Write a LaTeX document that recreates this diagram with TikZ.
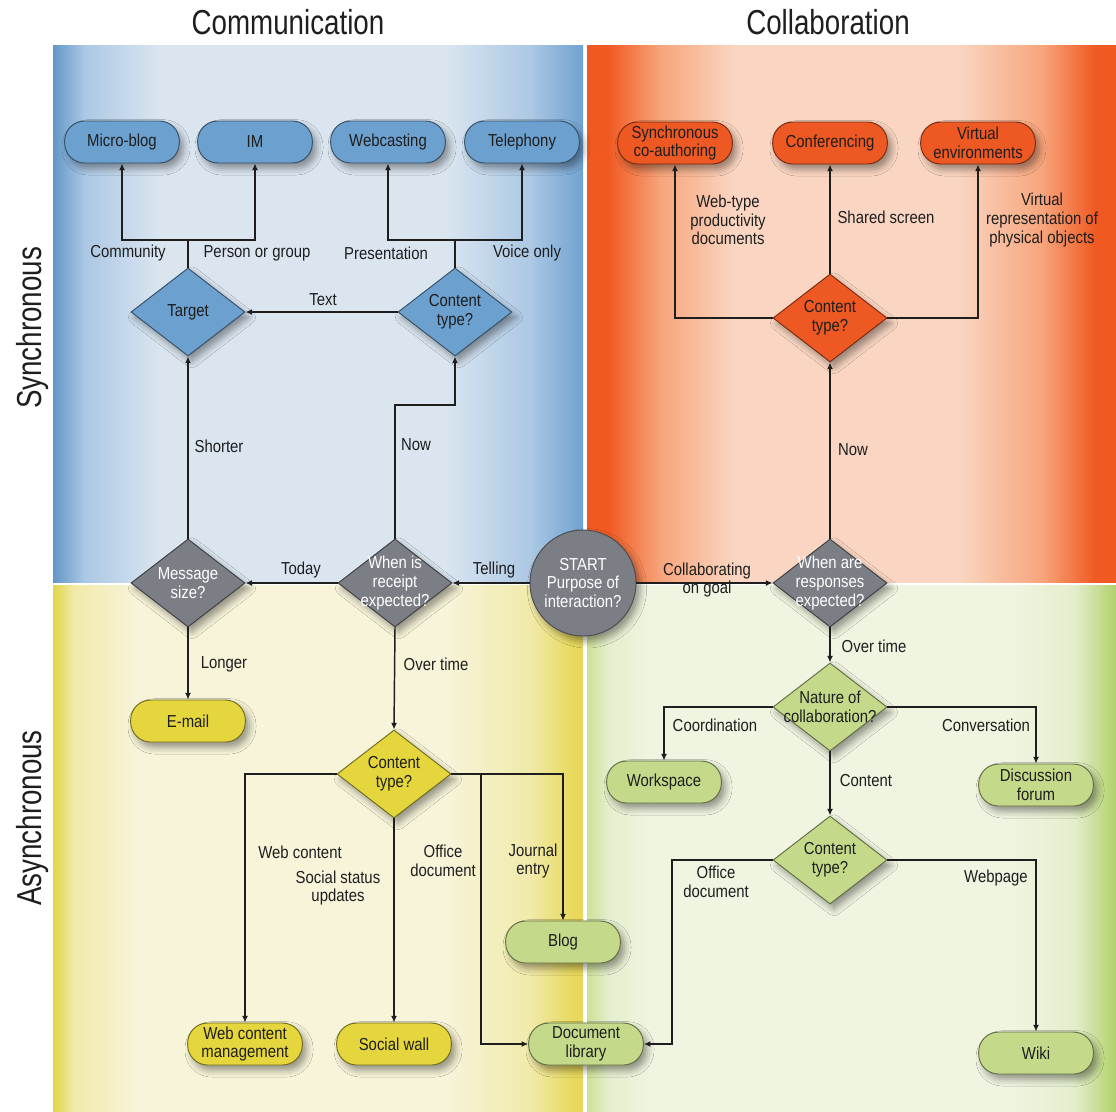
\documentclass[tikz,border=0pt]{standalone}
\usepackage{fontspec}
\setmainfont{Liberation Sans}[FakeStretch=0.86]
\newfontfamily\titlefont{Liberation Sans}[FakeStretch=0.8]
\usetikzlibrary{shapes.geometric,arrows.meta,shadows.blur}

% panel colours
\definecolor{blueA}{RGB}{98,151,201}
\definecolor{blueB}{RGB}{172,200,228}
\definecolor{blueC}{RGB}{218,229,240}
\definecolor{blueD}{RGB}{112,162,209}
\definecolor{orA}{RGB}{240,90,34}
\definecolor{orB}{RGB}{247,165,124}
\definecolor{orC}{RGB}{250,214,194}
\definecolor{yeA}{RGB}{226,213,72}
\definecolor{yeB}{RGB}{241,234,170}
\definecolor{yeC}{RGB}{247,244,218}
\definecolor{yeD}{RGB}{232,217,92}
\definecolor{grA}{RGB}{205,225,150}
\definecolor{grB}{RGB}{228,238,205}
\definecolor{grC}{RGB}{239,245,225}
\definecolor{grD}{RGB}{178,209,106}
% node colours
\definecolor{nblue}{RGB}{108,160,207}
\definecolor{norange}{RGB}{238,88,34}
\definecolor{nyellow}{RGB}{228,214,60}
\definecolor{ngreen}{RGB}{196,218,138}
\definecolor{ngrey}{RGB}{124,126,134}
\definecolor{linec}{RGB}{30,30,30}
\definecolor{txt}{RGB}{30,30,30}

\pgfdeclarehorizontalshading{bluepanel}{100bp}{color(0bp)=(blueA); color(25bp)=(blueA); color(28bp)=(blueB); color(35bp)=(blueC); color(62bp)=(blueC); color(70bp)=(blueB); color(75bp)=(blueD); color(100bp)=(blueD)}
\pgfdeclarehorizontalshading{orangepanel}{100bp}{color(0bp)=(orA); color(25bp)=(orA); color(27bp)=(orA); color(32bp)=(orB); color(39bp)=(orC); color(60bp)=(orC); color(68bp)=(orB); color(73bp)=(orA); color(75bp)=(orA); color(100bp)=(orA)}
\pgfdeclarehorizontalshading{yellowpanel}{100bp}{color(0bp)=(yeA); color(25bp)=(yeA); color(27bp)=(yeB); color(33bp)=(yeC); color(62bp)=(yeC); color(70bp)=(yeB); color(74bp)=(yeD); color(100bp)=(yeD)}
\pgfdeclarehorizontalshading{greenpanel}{100bp}{color(0bp)=(grA); color(25bp)=(grA); color(27bp)=(grB); color(31bp)=(grC); color(65bp)=(grC); color(71bp)=(grB); color(75bp)=(grD); color(100bp)=(grD)}

\newcommand\labfont{\fontsize{13}{14}\selectfont}
\newcommand\bigtitle{\titlefont\fontsize{26}{28}\selectfont}

\tikzset{
  softshadow/.style={blur shadow={shadow xshift=3pt, shadow yshift=-4pt, shadow blur radius=5pt, shadow opacity=40}},
  pill/.style={rectangle, rounded corners=15pt, minimum width=86pt, minimum height=31.5pt,
    inner sep=1pt, align=center, font=\labfont, text=txt, fill=#1, draw=#1!50!black,
    line width=0.7pt, softshadow},
  dia/.style={diamond, minimum width=85.5pt, minimum height=66pt, inner sep=0pt,
    fill=#1, draw=#1!50!black, line width=0.7pt, softshadow},
  dtext/.style={align=center, font=\labfont, text=txt, inner sep=0pt},
  wtext/.style={dtext, text=white},
  lbl/.style={align=center, font=\labfont, text=txt, inner sep=0pt},
  link/.style={draw=linec, line width=1.1pt},
  arr/.style={link, -{Latex[length=5pt,width=4.5pt]}},
}

\begin{document}
\begin{tikzpicture}[x=0.75pt, y=-0.75pt]
\useasboundingbox (0,0) rectangle (1116,1111);

% quadrant backgrounds
\fill[shading=bluepanel]   (53,45)   rectangle (583,582);
\fill[shading=orangepanel] (587,45)  rectangle (1116,582);
\fill[shading=yellowpanel] (53,585)  rectangle (583,1111);
\fill[shading=greenpanel]  (587,585) rectangle (1116,1111);

% axis titles
\node[font=\bigtitle, text=txt] (tcomm) at (288,22) {Communication};
\node[font=\bigtitle, text=txt] (tcoll) at (828,22) {Collaboration};
\node[font=\bigtitle, text=txt, rotate=90] (tsync) at (33,328) {Synchronous};
\node[font=\bigtitle, text=txt, rotate=90] (tasync) at (33,818) {Asynchronous};

% synchronous communication
\node[pill=nblue] (microblog) at (122,142) {Micro-blog};
\node[pill=nblue] (im)        at (255,142) {IM};
\node[pill=nblue] (webcast)   at (388,142) {Webcasting};
\node[pill=nblue] (teleph)    at (522,142) {Telephony};
\node[dia=nblue, label={[dtext]center:Target}] (target) at (188,312) {};
\node[dia=nblue, label={[dtext]center:Content\\type?}] (ctb) at (455,312) {};

% decisions on the axis
\node[dia=ngrey, label={[wtext]center:Message\\size?}] (msize) at (188,583) {};
\node[dia=ngrey, label={[wtext]center:When is\\receipt\\expected?}] (whenis) at (395,583) {};
\node[circle, minimum size=79.5pt, inner sep=0pt, fill=ngrey, draw=ngrey!60!black,
      line width=0.7pt, softshadow, align=center, font=\labfont, text=white]
      (start) at (583,583) {START\\Purpose of\\interaction?};
\node[dia=ngrey, label={[wtext]center:When are\\responses\\expected?}] (whenare) at (830,583) {};

% asynchronous communication
\node[pill=nyellow] (email) at (188,721) {E-mail};
\node[dia=nyellow, label={[dtext]center:Content\\type?}] (cty) at (394,774) {};
\node[pill=nyellow] (wcm)    at (245,1044) {Web content\\management};
\node[pill=nyellow] (social) at (394,1044) {Social wall};
\node[pill=ngreen]  (blog)   at (563,942)  {Blog};
\node[pill=ngreen]  (doclib) at (586,1044) {Document\\library};

% synchronous collaboration
\node[pill=norange] (coauth) at (675,143) {Synchronous\\co-authoring};
\node[pill=norange] (conf)   at (830,143) {Conferencing};
\node[pill=norange] (virt)   at (978,143) {Virtual\\environments};
\node[dia=norange, label={[dtext]center:Content\\type?}] (oct) at (830,318) {};

% asynchronous collaboration
\node[dia=ngreen, label={[dtext]center:Nature of\\collaboration?}] (nature) at (830,707) {};
\node[pill=ngreen] (workspace) at (664,782)  {Workspace};
\node[pill=ngreen] (forum)     at (1036,785) {Discussion\\forum};
\node[dia=ngreen, label={[dtext]center:Content\\type?}] (gct) at (830,860) {};
\node[pill=ngreen] (wiki)      at (1036,1053) {Wiki};

% junction points
\coordinate (jtarget) at (188,240);
\coordinate (jctb)    at (455,240);
\coordinate (jnow)    at (395,405);
\coordinate (jdoc)    at (481,774);
\coordinate (jod)     at (672,1044);

% connectors: communication
\draw[link] (target.north) -- (jtarget);
\draw[arr] (jtarget) -| (microblog.south);
\draw[arr] (jtarget) -| (im.south);
\draw[link] (ctb.north) -- (jctb);
\draw[arr] (jctb) -| (webcast.south);
\draw[arr] (jctb) -| (teleph.south);
\draw[arr] (ctb.west) -- (target.east);
\draw[arr] (msize.north) -- (target.south);
\draw[arr] (whenis.north) -- (jnow) -| (ctb.south);
\draw[arr] (start.west) -- (whenis.east);
\draw[arr] (whenis.west) -- (msize.east);
\draw[arr] (msize.south) -- (email.north);
\draw[arr] (whenis.south) -- (cty.north);
\draw[arr] (cty.west) -| (wcm.north);
\draw[arr] (cty.south) -- (social.north);
\draw[arr] (cty.east) -| (blog.north);
\draw[arr] (jdoc) |- (doclib.west);

% connectors: collaboration
\draw[arr] (start.east) -- (whenare.west);
\draw[arr] (whenare.north) -- (oct.south);
\draw[arr] (oct.west) -| (coauth.south);
\draw[arr] (oct.north) -- (conf.south);
\draw[arr] (oct.east) -| (virt.south);
\draw[arr] (whenare.south) -- (nature.north);
\draw[arr] (nature.west) -| (workspace.north);
\draw[arr] (nature.east) -| (forum.north);
\draw[arr] (nature.south) -- (gct.north);
\draw[arr] (gct.west) -| (jod) -- (doclib.east);
\draw[arr] (gct.east) -| (wiki.north);

% branch labels
\node[lbl] (lcommunity) at (128,253) {Community};
\node[lbl] (lperson)    at (257,253) {Person or group};
\node[lbl] (lpresent)   at (386,253) {Presentation};
\node[lbl] (lvoice)     at (527,253) {Voice only};
\node[lbl] (ltext)      at (323,300) {Text};
\node[lbl] (lshorter)   at (219,446) {Shorter};
\node[lbl] (lnow)       at (416,445) {Now};
\node[lbl] (ltoday)     at (301,570) {Today};
\node[lbl] (ltelling)   at (494,570) {Telling};
\node[lbl] (llonger)    at (224,664) {Longer};
\node[lbl] (lovertime)  at (436,664) {Over time};
\node[lbl] (lwebcont)   at (300,852) {Web content};
\node[lbl] (lsocial)    at (338,888) {Social status\\updates};
\node[lbl] (loffice)    at (443,861) {Office\\document};
\node[lbl] (ljournal)   at (533,861) {Journal\\entry};
\node[lbl] (lwebtype)   at (728,220) {Web-type\\productivity\\documents};
\node[lbl] (lshared)    at (886,217) {Shared screen};
\node[lbl] (lvirtual)   at (1042,220) {Virtual\\representation of\\physical objects};
\node[lbl] (lnow2)      at (853,450) {Now};
\node[lbl] (lcollab)    at (707,580) {Collaborating\\on goal};
\node[lbl] (lovertime2) at (874,646) {Over time};
\node[lbl] (lcoord)     at (715,725) {Coordination};
\node[lbl] (lconv)      at (986,725) {Conversation};
\node[lbl] (lcontent)   at (866,781) {Content};
\node[lbl] (loffice2)   at (716,882) {Office\\document};
\node[lbl] (lwebpage)   at (996,878) {Webpage};
\end{tikzpicture}
\end{document}
